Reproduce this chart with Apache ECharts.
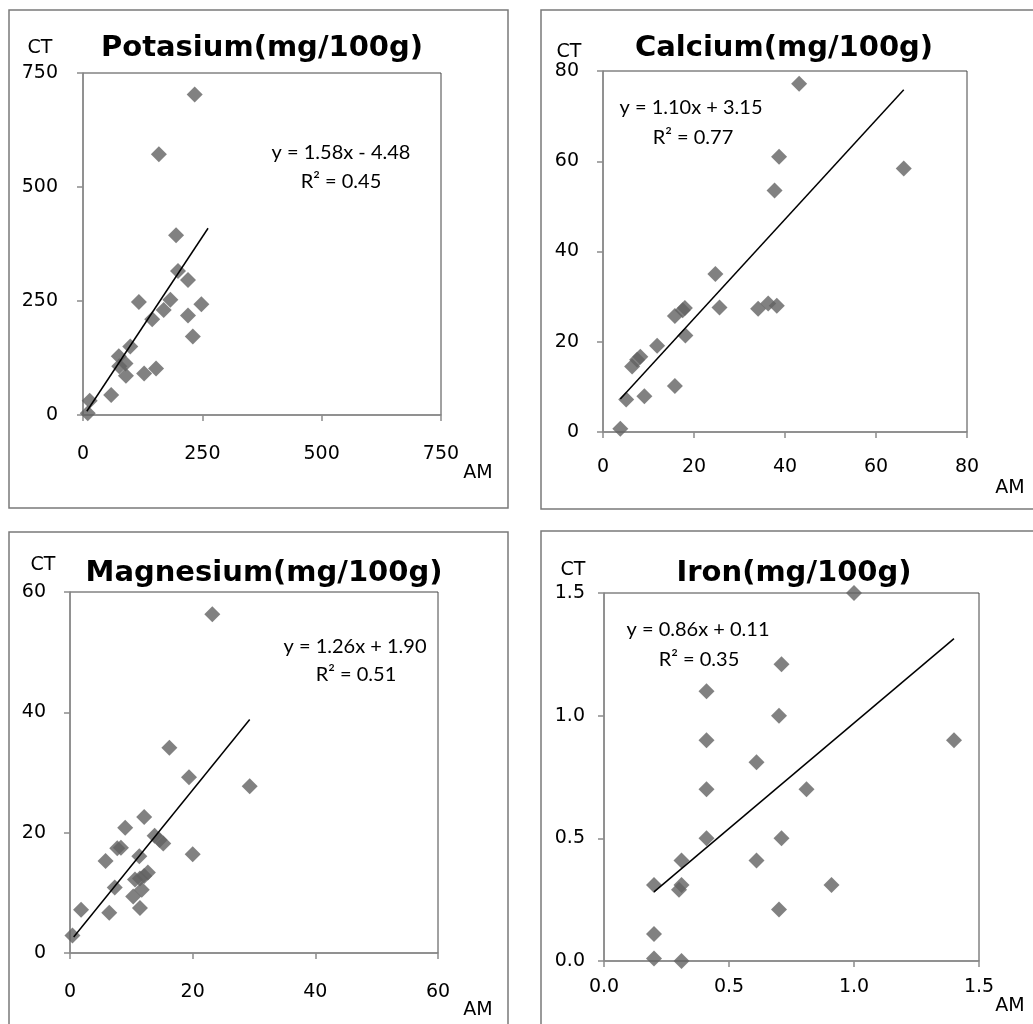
<!doctype html>
<html>
<head>
<meta charset="utf-8">
<title>AM vs CT</title>
<style>
	html,body{height:100%;padding:0;margin:0;background:#fff;}
</style>
</head>
<body>
<div id="main" style="width:1033px;height:1024px;"></div>
<script src="https://cdn.jsdelivr.net/npm/echarts@6/dist/echarts.min.js"></script>
<script>
// Potasium
var potAM = [234, 159, 195, 199, 220, 183, 117, 248, 169, 145, 220, 230, 99, 75, 89, 76, 90, 128, 153, 59, 14, 10];
var potCT = [703, 572, 394, 316, 296, 253, 248, 243, 230, 210, 218, 172, 150, 129, 113, 107, 86, 91, 102, 44, 31, 4];
var potTrend = [1.58, -4.48, 8, 262];
// Calcium
var calAM = [43.1, 38.7, 37.7, 66.1, 24.7, 18.0, 17.5, 15.8, 25.6, 34.1, 36.3, 38.2, 18.1, 11.9, 8.2, 7.5, 6.4, 15.8, 9.1, 5.1, 3.8];
var calCT = [77.2, 61.0, 53.5, 58.4, 35.0, 27.5, 27.0, 25.7, 27.6, 27.3, 28.5, 28.0, 21.4, 19.1, 16.7, 16.0, 14.5, 10.2, 7.9, 7.2, 0.7];
var calTrend = [1.10, 3.15, 3.8, 66.1];
// Magnesium
var magAM = [23.2, 16.2, 19.4, 29.3, 12.1, 9.0, 13.8, 14.6, 15.2, 7.7, 8.3, 5.8, 11.3, 20.0, 12.7, 12.1, 10.6, 11.4, 7.3, 10.3, 11.7, 11.4, 1.8, 6.4, 0.4];
var magCT = [56.3, 34.1, 29.2, 27.7, 22.6, 20.8, 19.5, 18.8, 18.2, 17.4, 17.5, 15.3, 16.1, 16.4, 13.4, 12.8, 12.2, 12.4, 10.9, 9.4, 10.5, 7.5, 7.2, 6.7, 2.9];
var magTrend = [1.26, 1.90, 0.6, 29.3];
// Iron
var ironAM = [1.0, 0.71, 0.41, 0.7, 0.41, 1.4, 0.61, 0.41, 0.81, 0.41, 0.71, 0.31, 0.61, 0.2, 0.31, 0.3, 0.91, 0.7, 0.2, 0.2, 0.31];
var ironCT = [1.5, 1.21, 1.1, 1.0, 0.9, 0.9, 0.81, 0.7, 0.7, 0.5, 0.5, 0.41, 0.41, 0.31, 0.31, 0.29, 0.31, 0.21, 0.11, 0.01, 0.0];
var ironTrend = [0.86, 0.11, 0.2, 1.4];

var titles = ['Potasium(mg/100g)', 'Calcium(mg/100g)', 'Magnesium(mg/100g)', 'Iron(mg/100g)'];
var equations = ['y = 1.58x - 4.48', 'y = 1.10x + 3.15', 'y = 1.26x + 1.90', 'y = 0.86x + 0.11'];
var rSquared = ['R² = 0.45', 'R² = 0.77', 'R² = 0.51', 'R² = 0.35'];
var axisMax = [750, 80, 60, 1.5];
var axisStep = [250, 20, 20, 0.5];

var panels = [
	{am: potAM, ct: potCT, tr: potTrend, grid: [83, 73, 358, 342], box: [9, 10, 499, 498], xm: 30, ym: 25,
		ctPos: [40, 48], amPos: [478, 473], titlePos: [262, 48], eqPos: [341, 153], rPos: [341, 182]},
	{am: calAM, ct: calCT, tr: calTrend, grid: [603, 71, 364, 361], box: [541, 10, 540, 499], xm: 26, ym: 24,
		ctPos: [569, 52], amPos: [1010, 488], titlePos: [784, 48], eqPos: [691, 108], rPos: [693, 138]},
	{am: magAM, ct: magCT, tr: magTrend, grid: [70, 592, 368, 361], box: [9, 532, 499, 540], xm: 30, ym: 24,
		ctPos: [43, 565], amPos: [478, 1010], titlePos: [264, 573], eqPos: [355, 647], rPos: [356, 675]},
	{am: ironAM, ct: ironCT, tr: ironTrend, grid: [604, 593, 375, 368], box: [541, 531, 540, 540], xm: 17, ym: 19,
		ctPos: [573, 570], amPos: [1010, 1006], titlePos: [794, 573], eqPos: [698, 630], rPos: [699, 660]}
];

var grids = [], xAxes = [], yAxes = [], series = [], graphics = [];

function axisDef(i, p, isX){
	var step = axisStep[i];
	return {
		type: 'value', gridIndex: i, min: 0, max: axisMax[i], interval: step,
		splitLine: {show: false},
		axisLine: {show: true, lineStyle: {color: '#8c8c8c', width: 1.5}},
		axisTick: {show: true, length: 6, lineStyle: {color: '#8c8c8c', width: 1.5}},
		axisLabel: {
			color: '#000', fontFamily: 'DejaVu Sans', fontSize: 19,
			margin: isX ? p.xm : p.ym,
			formatter: function(v){ return step < 1 ? v.toFixed(1) : String(v); }
		}
	};
}

function text(str, pos, family, size, weight){
	return {type: 'text', x: pos[0], y: pos[1], z: 100,
		style: {text: str, fontFamily: family, fontSize: size, fontWeight: weight || 'normal',
			fill: '#000', textAlign: 'center', textVerticalAlign: 'middle'}};
}

panels.forEach(function(p, i){
	grids.push({left: p.grid[0], top: p.grid[1], width: p.grid[2], height: p.grid[3],
		show: true, borderColor: '#444', borderWidth: 1, backgroundColor: '#fff'});
	xAxes.push(axisDef(i, p, true));
	yAxes.push(axisDef(i, p, false));

	var pts = p.am.map(function(x, k){ return [x, p.ct[k]]; });
	series.push({type: 'scatter', xAxisIndex: i, yAxisIndex: i, data: pts,
		symbol: 'diamond', symbolSize: 16, itemStyle: {color: '#626262'}, z: 3});

	var a = p.tr[0], b = p.tr[1];
	series.push({type: 'line', xAxisIndex: i, yAxisIndex: i, z: 4,
		data: [[p.tr[2], a * p.tr[2] + b], [p.tr[3], a * p.tr[3] + b]],
		showSymbol: false, symbol: 'none', lineStyle: {color: '#000', width: 1.5}});

	graphics.push({type: 'rect', shape: {x: p.box[0], y: p.box[1], width: p.box[2], height: p.box[3]},
		style: {fill: 'none', stroke: '#7a7a7a', lineWidth: 1.5}, z: -1});
	graphics.push(text(titles[i], p.titlePos, 'DejaVu Sans', 29, 'bold'));
	graphics.push(text('CT', p.ctPos, 'DejaVu Sans', 19));
	graphics.push(text('AM', p.amPos, 'DejaVu Sans', 19));
	graphics.push(text(equations[i], p.eqPos, 'Lato', 20));
	graphics.push(text(rSquared[i], p.rPos, 'Lato', 20));
});

var myChart = echarts.init(document.getElementById('main'), null, {renderer: 'canvas'});
myChart.setOption({
	animation: false,
	backgroundColor: '#fff',
	grid: grids,
	xAxis: xAxes,
	yAxis: yAxes,
	series: series,
	graphic: graphics
});
</script>
</body>
</html>
